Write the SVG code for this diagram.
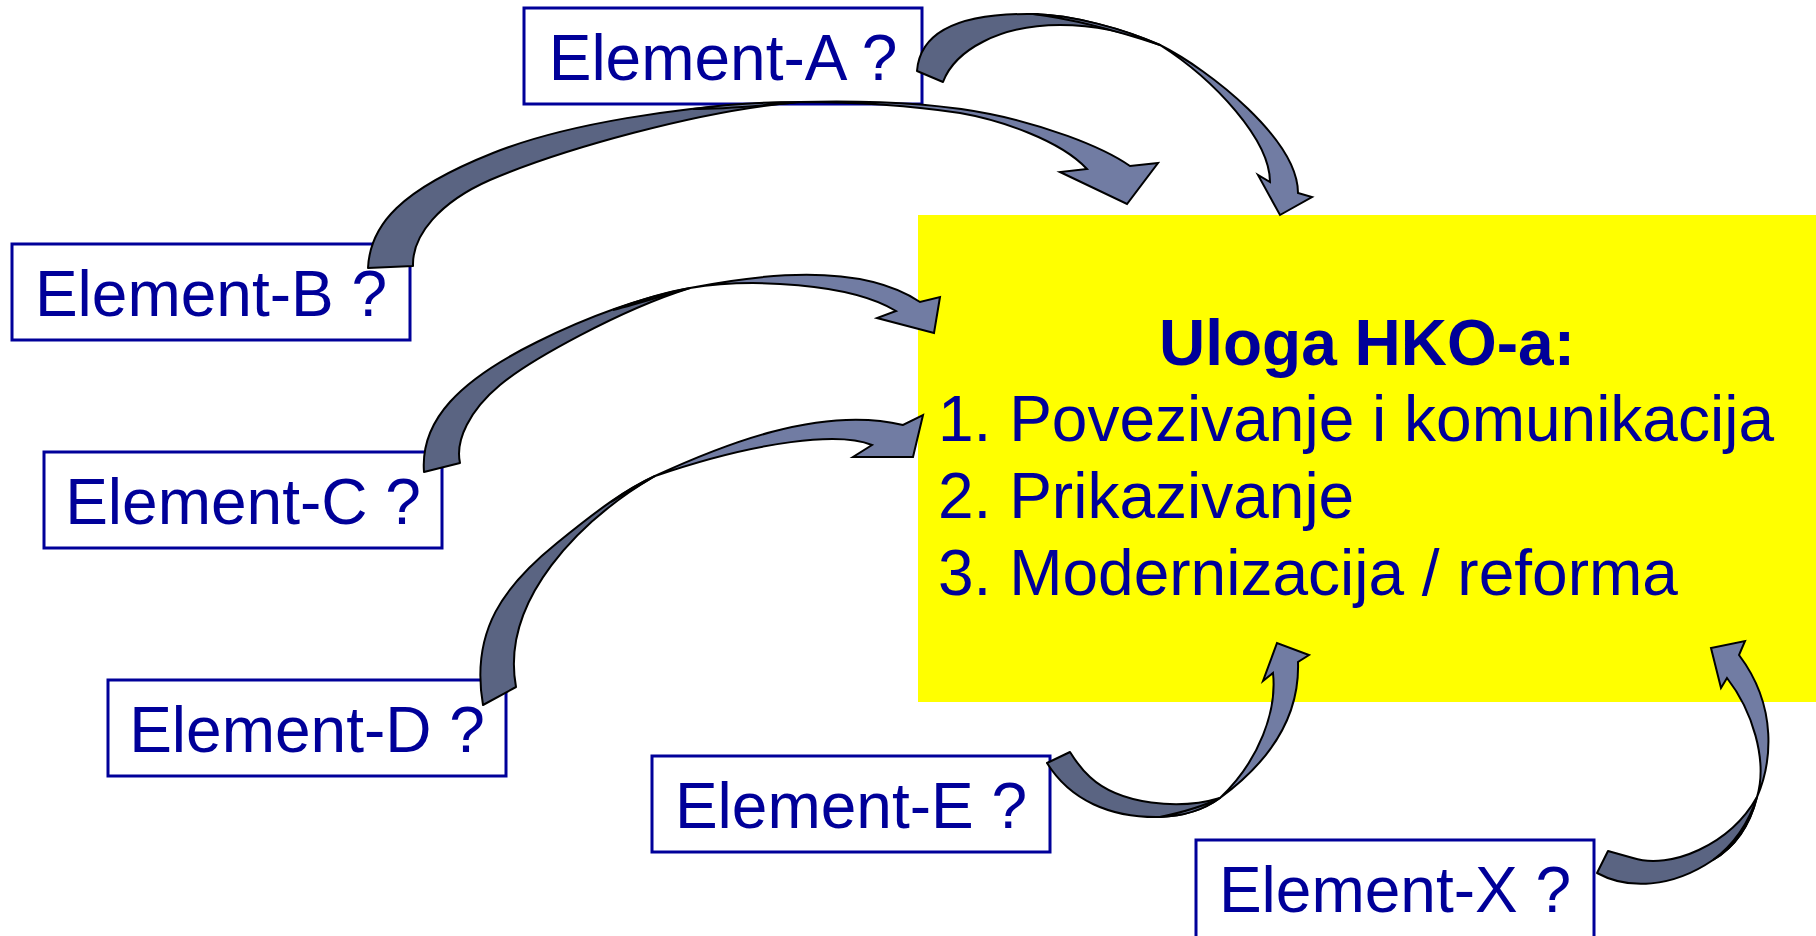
<svg xmlns="http://www.w3.org/2000/svg" width="1816" height="936" viewBox="0 0 1816 936">
  <style>
    .el-box { fill: #ffffff; stroke: #000099; stroke-width: 3; }
    .el-text { font-family: "Liberation Sans", Arial, sans-serif; font-size: 64px; fill: #000099; text-anchor: middle; }
    .role-text { font-family: "Liberation Sans", Arial, sans-serif; font-size: 64px; fill: #000099; }
    .role-title { font-weight: bold; text-anchor: middle; }
    .back { fill: #5a6482; stroke: #000000; stroke-width: 2; stroke-linejoin: round; }
    .front { fill: #717ca3; stroke: #000000; stroke-width: 2; stroke-linejoin: miter; }
  </style>

  <!-- central role panel -->
  <g id="hko-role">
    <rect x="918" y="215" width="898" height="487" fill="#ffff00"/>
    <text class="role-text role-title" x="1367" y="365">Uloga HKO-a:</text>
    <text class="role-text" x="938" y="441">1. Povezivanje i komunikacija</text>
    <text class="role-text" x="938" y="518">2. Prikazivanje</text>
    <text class="role-text" x="938" y="595">3. Modernizacija / reforma</text>
  </g>

  <!-- element boxes -->
  <g id="element-a">
    <rect class="el-box" x="524" y="8" width="398" height="96"/>
    <text class="el-text" x="723" y="80">Element-A ?</text>
  </g>
  <g id="element-b">
    <rect class="el-box" x="12" y="244" width="398" height="96"/>
    <text class="el-text" x="211" y="316">Element-B ?</text>
  </g>
  <g id="element-c">
    <rect class="el-box" x="44" y="452" width="398" height="96"/>
    <text class="el-text" x="243" y="524">Element-C ?</text>
  </g>
  <g id="element-d">
    <rect class="el-box" x="108" y="680" width="398" height="96"/>
    <text class="el-text" x="307" y="752">Element-D ?</text>
  </g>
  <g id="element-e">
    <rect class="el-box" x="652" y="756" width="398" height="96"/>
    <text class="el-text" x="851" y="828">Element-E ?</text>
  </g>
  <g id="element-x">
    <rect class="el-box" x="1196" y="840" width="398" height="98"/>
    <text class="el-text" x="1395" y="912">Element-X ?</text>
  </g>

  <!-- curved block arrows: darker back face from the tail, lighter front face to the head -->
  <g id="connectors">
    <g id="arrow-a">
      <path class="back" d="M917,71 C920,32 960,13 1033,14 C1073,15 1124,29 1160,45 C1135,35 1100,25 1060,25 C1000,25 955,50 943,82 Z"/>
      <path class="front" d="M1033,14 C1073,15 1124,29 1160,45 C1210,70 1298,140 1298,193 L1312,197 L1280,215 L1258,175 L1270,182 C1270,140 1215,80 1160,45 C1124,33 1073,19 1033,14 Z"/>
    </g>
    <g id="arrow-b">
      <path class="back" d="M368,268 C370,225 400,190 493,153 C560,126 680,104 800,102 C700,110 560,150 490,180 C440,202 412,235 413,266 Z"/>
      <path class="front" d="M693,109 C730,104 765,102 800,102 C880,100 940,104 990,114 C1040,124 1100,145 1130,166 L1158,163 L1127,204 L1060,172 L1087,169 C1060,140 1000,120 960,113 C900,104 850,102 800,102 C765,105 728,109 693,109 Z"/>
    </g>
    <g id="arrow-c">
      <path class="back" d="M424,472 C420,420 460,380 537,342 C585,318 640,298 690,288 C620,310 530,360 500,385 C470,410 455,440 460,463 Z"/>
      <path class="front" d="M613,310 C640,300 665,292 690,288 C760,274 860,262 920,302 L940,297 L934,333 L877,318 L896,311 C850,283 750,278 690,288 C665,295 640,303 613,310 Z"/>
    </g>
    <g id="arrow-d">
      <path class="back" d="M483,705 C470,630 505,585 557,543 C600,508 625,490 655,476 C580,520 500,600 516,687 Z"/>
      <path class="front" d="M611,502 C628,490 642,482 655,476 C720,446 820,405 903,425 L923,415 L913,457 L853,457 L872,445 C840,432 760,440 655,476 C640,485 625,494 611,502 Z"/>
    </g>
    <g id="arrow-e">
      <path class="back" d="M1047,763 C1070,800 1110,818 1160,817 C1185,816 1205,809 1220,798 C1180,810 1120,805 1090,777 C1080,768 1075,760 1070,752 Z"/>
      <path class="front" d="M1160,817 C1185,816 1205,809 1220,798 C1265,765 1300,720 1298,662 L1309,655 L1277,643 L1263,681 L1273,673 C1277,710 1260,760 1220,798 C1204,806 1184,812 1160,817 Z"/>
    </g>
    <g id="arrow-x">
      <path class="back" d="M1597,873 C1628,890 1672,888 1713,860 C1735,847 1750,825 1757,797 C1730,845 1670,870 1633,858 C1622,855 1615,853 1608,851 Z"/>
      <path class="front" d="M1713,860 C1735,847 1750,825 1757,797 C1771,765 1779,708 1739,655 L1745,641 L1711,648 L1721,688 L1727,678 C1752,710 1768,760 1757,797 C1748,825 1733,845 1713,860 Z"/>
    </g>
  </g>
</svg>
